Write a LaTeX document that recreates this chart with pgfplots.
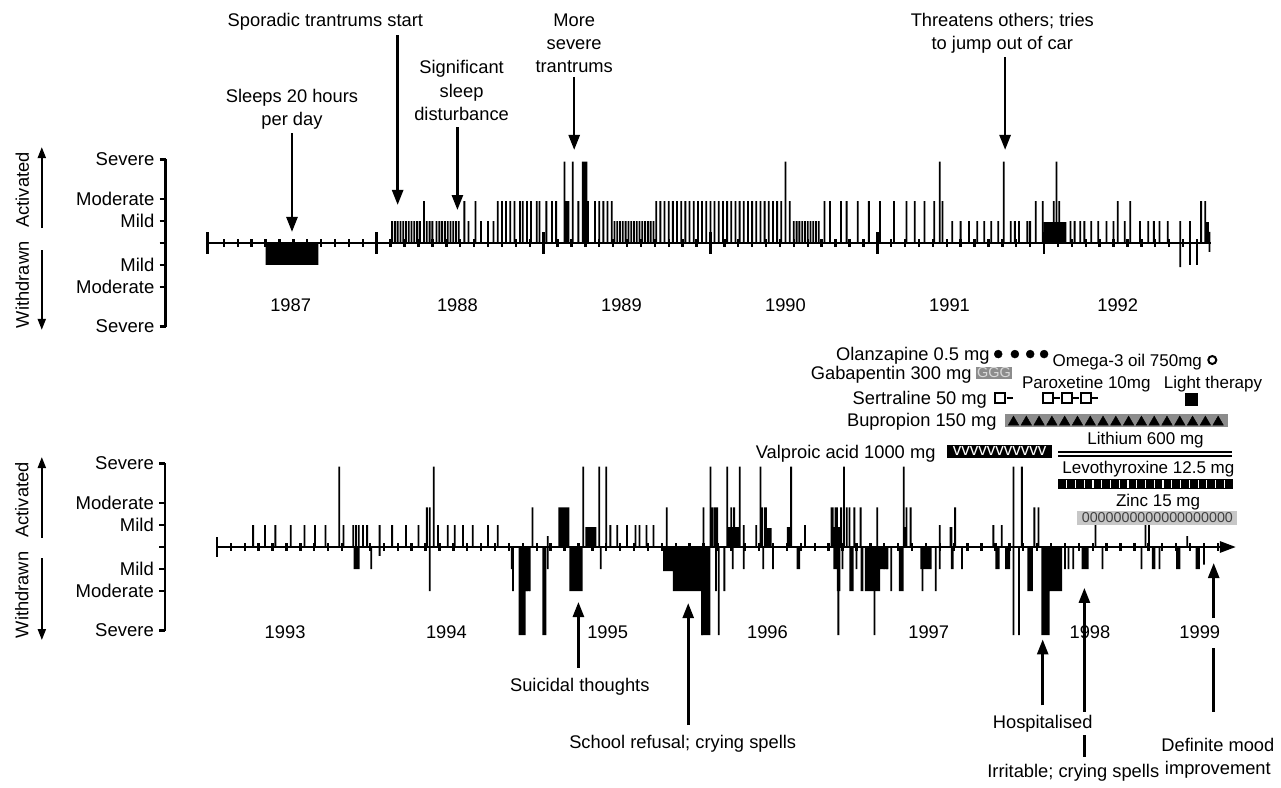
\documentclass[border=0pt]{standalone}
\usepackage{fontspec}
\setmainfont{Liberation Sans}
\usepackage{pgfplots}
\pgfplotsset{compat=1.18}
\usetikzlibrary{arrows.meta}
\definecolor{midgray}{gray}{0.55}
\definecolor{palegray}{gray}{0.78}
\definecolor{textgray}{gray}{0.85}
\newcommand{\lbl}{\fontsize{18.3}{21}\selectfont}
\newcommand{\slbl}{\fontsize{17}{20}\selectfont}

% x: months from the start of each panel (13.9pt each), y: mood level (22pt each)
\pgfplotsset{
  mood/.style={
    scale only axis, height=167.2pt, anchor=south west,
    xmax=74, ymin=-3.8, ymax=3.8,
    axis x line=none, axis y line*=left,
    xtick=\empty,
    ytick={-3.8,-2,-1,0,1,2,3.8},
    yticklabels={Severe,Moderate,Mild,{},Mild,Moderate,Severe},
    tick align=outside, major tick length=6pt,
    tick style={black, line width=2.6pt},
    axis line style={line width=2.6pt},
    yticklabel style={font=\fontsize{18.5}{21}\selectfont, inner sep=0pt, xshift=-5pt},
    clip=false,
  },
  spike/.style={ybar, bar width=1.8pt, bar shift=0pt, fill=black, draw=none},
  block/.style={const plot, fill=black, draw=none},
}
\tikzset{
  lab/.style={font=\lbl, inner sep=0pt, text height=13pt, text depth=0pt},
  slab/.style={font=\slbl, inner sep=0pt, text height=12.2pt, text depth=0pt},
  arr/.style={line width=2.6pt, -{Triangle[length=15pt,width=11pt]}},
  sarr/.style={line width=2pt, -{Triangle[length=11pt,width=8pt]}},
}

\begin{document}
\begin{tikzpicture}
\useasboundingbox (0pt,0pt) rectangle (1281pt,787pt);

%================ 1987-1992 ================
\begin{axis}[mood, at={(165.5pt,460.4pt)}, width=1073.1pt, xmin=-3.2]
\addplot[block] coordinates {(4.0,-1) (7.8,0)} \closedcycle;
\addplot[block] coordinates {(25.5,1.9) (25.85,0) (26.75,3.7) (27.15,0)
  (59.95,0.95) (61.6,0) (71.6,0.95) (71.85,0)} \closedcycle;
% mild
\addplot[spike] coordinates {
(13.1,1)(13.3,1)(13.5,1)(13.7,1)(13.9,1)(14.1,1)(14.3,1)(14.5,1)(14.7,1)(14.9,1)
(15.1,1)(15.6,1)(15.8,1)(16.0,1)(16.3,1)(16.5,1)(16.7,1)(16.9,1)(17.1,1)(17.3,1)
(17.5,1)(17.7,1)(17.9,1)(18.6,1)(19.5,1)(20.0,1)(20.4,1)
(29.1,1)(29.3,1)(29.5,1)(29.7,1)(29.9,1)(30.1,1)(30.3,1)(30.5,1)(30.7,1)(30.9,1)
(31.1,1)(31.3,1)(31.5,1)(31.7,1)(31.9,1)
(42.0,1)(42.2,1)(42.4,1)(42.6,1)(42.8,1)(43.0,1)(43.2,1)(43.4,1)(43.6,1)(43.8,1)
(53.4,1)(54.0,1)(54.6,1)(55.2,1)(55.7,1)(56.2,1)(56.7,1)(57.6,1)(57.9,1)(58.2,1)
(58.8,1)(59.0,1)(61.9,1)(62.2,1)(62.6,1)(62.9,1)(63.4,1)(63.9,1)(64.5,1)(65.0,1)
(65.8,1)(66.9,1)(67.5,1)(67.9,1)(68.3,1)(68.9,1)(69.8,1)(70.5,1)(71.9,0.5)};
% moderate
\addplot[spike] coordinates {
(15.4,1.9)(18.3,1.9)(19.1,1.9)(20.7,1.9)(21.0,1.9)(21.3,1.9)(21.6,1.9)(21.9,1.9)
(22.3,1.9)(22.5,1.9)(22.8,1.9)(23.1,1.9)(23.5,1.9)(23.7,1.9)(24.2,1.9)(24.6,1.9)
(24.9,1.9)(26.5,1.9)(27.2,1.9)(27.7,1.9)(28.0,1.9)(28.3,1.9)(28.6,1.9)(28.9,1.9)
(32.1,1.9)(32.4,1.9)(32.7,1.9)(33.0,1.9)(33.3,1.9)(33.6,1.9)(33.9,1.9)(34.2,1.9)
(34.5,1.9)(34.8,1.9)(35.1,1.9)(35.4,1.9)(35.7,1.9)(36.0,1.9)(36.3,1.9)(36.6,1.9)
(36.9,1.9)(37.2,1.9)(37.5,1.9)(37.8,1.9)(38.1,1.9)(38.4,1.9)(38.7,1.9)(39.0,1.9)
(39.3,1.9)(39.6,1.9)(39.9,1.9)(40.2,1.9)(40.5,1.9)(40.8,1.9)(41.1,1.9)(41.7,1.9)
(44.2,1.9)(44.6,1.9)(45.4,1.9)(45.8,1.9)(46.6,1.9)(47.4,1.9)(48.2,1.9)(49.2,1.9)
(50.1,1.9)(50.7,1.9)(51.4,1.9)(52.1,1.9)(52.7,1.9)(59.4,1.9)(59.9,1.9)(60.7,1.9)
(61.1,1.9)(65.3,1.9)(66.2,1.9)(71.3,1.9)(71.6,1.9)};
% severe and withdrawn
\addplot[spike] coordinates {
(25.5,3.7)(26.1,3.7)(41.4,3.7)(52.5,3.7)(57.1,3.7)(60.9,3.7)
(69.8,-1.1)(70.5,-1)(71.0,-1)(71.9,-0.4)};

% time line
\draw[line width=2.8pt] (axis cs:-0.2,0) -- (axis cs:72,0);
\pgfplotsinvokeforeach{1,...,71}{\draw[line width=2.4pt] (axis cs:#1,-0.16) -- (axis cs:#1,0.16);}
\pgfplotsinvokeforeach{-0.2,12,24,36,48,60}{\draw[line width=2.6pt] (axis cs:#1,-0.5) -- (axis cs:#1,0.5);}

\node[lab] at (axis cs:5.8,-2.82) {1987};
\node[lab] at (axis cs:17.8,-2.82) {1988};
\node[lab] at (axis cs:29.6,-2.82) {1989};
\node[lab] at (axis cs:41.4,-2.82) {1990};
\node[lab] at (axis cs:53.2,-2.82) {1991};
\node[lab] at (axis cs:65.3,-2.82) {1992};

% side labels
\node[lab, rotate=90] at (axis cs:-13.5,2.41) {Activated};
\node[lab, rotate=90] at (axis cs:-13.5,-1.9) {Withdrawn};
\draw[sarr] (axis cs:-12.1,0.68) -- (axis cs:-12.1,4.36);
\draw[sarr] (axis cs:-12.1,-0.32) -- (axis cs:-12.1,-3.95);

% events
\node[lab] at (axis cs:5.9,6.68) {Sleeps 20 hours};
\node[lab] at (axis cs:5.9,5.64) {per day};
\draw[arr] (axis cs:5.9,5.0) -- (axis cs:5.9,0.5);
\node[lab] at (axis cs:8.3,10.14) {Sporadic trantrums start};
\draw[arr] (axis cs:13.5,9.45) -- (axis cs:13.5,1.73);
\node[lab] at (axis cs:18.1,8.0) {Significant};
\node[lab] at (axis cs:18.1,6.9) {sleep};
\node[lab] at (axis cs:18.1,5.86) {disturbance};
\draw[arr] (axis cs:17.8,5.27) -- (axis cs:17.8,1.5);
\node[lab] at (axis cs:26.2,10.14) {More};
\node[lab] at (axis cs:26.2,9.09) {severe};
\node[lab] at (axis cs:26.2,8.05) {trantrums};
\draw[arr] (axis cs:26.2,7.55) -- (axis cs:26.2,4.23);
\node[lab] at (axis cs:57.0,10.14) {Threatens others; tries};
\node[lab] at (axis cs:57.0,9.09) {to jump out of car};
\draw[arr] (axis cs:57.2,8.45) -- (axis cs:57.2,4.23);
\end{axis}

%================ 1993-1999 ================
\begin{axis}[mood, at={(165pt,156.4pt)}, width=1080.6pt, xmin=-3.74]
\addplot[block] coordinates {(24.55,1.8)(25.35,0)(26.5,0.9)(27.3,0)(35.7,1.8)(36.05,0)
  (36.7,0.9)(37.6,0)(39.4,0.86)(39.9,0)(41.0,0.9)(41.3,0)(44.2,0.9)(44.8,0)
  (49.4,0.9)(49.6,0)(52.7,0.9)(52.9,0)} \closedcycle;
\addplot[block] coordinates {(21.7,-4)(22.2,-2)(22.5,0)(23.4,-4)(23.7,0)(25.35,-2)(26.3,0)
  (32.1,-1.1)(32.8,-2)(34.85,-4)(35.5,0)(41.7,-1)(41.95,0)(44.35,-1)(44.6,-2)(44.85,0)
  (45.5,-2)(45.8,0)(46.3,-2)(46.5,0)(46.6,-2)(47.7,-1)(48.3,0)(49.05,-2)(49.4,0)
  (50.6,-1)(51.4,0)(52.8,-1)(53.0,0)(56.0,-1)(56.3,0)(56.7,-1)(57.05,0)(58.3,-2)(58.7,0)
  (59.3,-4)(59.9,-2)(60.8,0)(62.2,-1)(62.7,0)(67.25,-1)(67.5,0)(69.0,-1)(69.3,0)
  (70.4,-1)(70.7,0)} \closedcycle;
% mild
\addplot[spike] coordinates {
(2.6,1)(3.45,1)(4.2,1)(5.3,1)(6.3,1)(7.05,1)(7.8,1)(9.1,1)(9.8,1)(10.0,1)(10.2,1)
(10.5,1)(10.8,1)(11.7,1)(12.6,1)(13.6,1)(14.5,1)(15.9,1)(16.6,1)(17.1,1)(17.7,1)
(18.4,1)(19.5,1)(20.2,1)(28.3,1)(28.8,1)(29.5,1)(30.1,1)(30.4,1)(30.9,1)(31.4,1)
(37.9,1)(38.8,1)(42.3,1)(52.0,1)(55.85,1)(56.45,1)(63.2,1)(66.8,1)(67.05,1)
(23.8,0.5)(69.8,0.5)};
% moderate
\addplot[spike] coordinates {
(15.1,1.8)(15.3,1.8)(22.7,1.8)(32.35,1.8)(35.0,1.8)(35.6,1.8)(37.0,1.8)(37.2,1.8)
(39.2,1.8)(39.4,1.8)(39.5,1.8)(44.2,1.8)(44.3,1.8)(44.5,1.8)(44.6,1.8)(44.9,1.8)
(45.3,1.8)(45.5,1.8)(45.85,1.8)(46.3,1.8)(47.5,1.8)(49.6,1.8)(49.9,1.8)(53.1,1.8)
(58.8,1.8)(59.1,1.8)};
% severe
\addplot[spike] coordinates {
(8.8,3.65)(15.6,3.65)(26.35,3.65)(27.5,3.65)(28.0,3.65)(35.5,3.65)(36.7,3.65)
(37.6,3.65)(39.1,3.65)(41.3,3.65)(45.1,3.65)(49.4,3.65)(57.3,3.65)(57.9,3.65)};
% withdrawn
\addplot[spike] coordinates {
(9.9,-1)(10.05,-1)(10.2,-1)(11.1,-1)(21.2,-1)(23.8,-1)(27.6,-1)(37.1,-1)(37.9,-1)
(39.3,-1)(40.0,-1)(45.0,-1)(46.0,-1)(48.0,-1)(48.2,-1)(52.0,-1)(53.6,-1)(61.0,-1)
(61.25,-1)(61.6,-1)(63.7,-1)(66.5,-1)(67.8,-1)(11.7,-0.4)(71.0,-0.8)
(15.3,-2)(21.3,-2)(22.3,-2)(22.5,-2)(35.9,-2)(36.5,-2)(48.5,-2)(50.75,-2)(51.7,-2)
(34.9,-4)(36.1,-4)(44.7,-4)(47.3,-4)(57.3,-4)(57.7,-4)};

% time line
\draw[line width=2.8pt, -{Triangle[length=16pt,width=11pt]}] (axis cs:0,0) -- (axis cs:73.3,0);
\pgfplotsinvokeforeach{1,...,72}{\draw[line width=2.4pt] (axis cs:#1,-0.16) -- (axis cs:#1,0.16);}
\draw[line width=2.6pt] (axis cs:0,-0.45) -- (axis cs:0,0.45);

\node[lab] at (axis cs:4.9,-3.86) {1993};
\node[lab] at (axis cs:16.5,-3.86) {1994};
\node[lab] at (axis cs:28.1,-3.86) {1995};
\node[lab] at (axis cs:39.6,-3.86) {1996};
\node[lab] at (axis cs:51.2,-3.86) {1997};
\node[lab] at (axis cs:62.8,-3.86) {1998};
\node[lab] at (axis cs:70.7,-3.86) {1999};

\node[lab, rotate=90] at (axis cs:-14.03,2.14) {Activated};
\node[lab, rotate=90] at (axis cs:-14.03,-2.18) {Withdrawn};
\draw[sarr] (axis cs:-12.6,0.41) -- (axis cs:-12.6,4.09);
\draw[sarr] (axis cs:-12.6,-0.5) -- (axis cs:-12.6,-4.23);

% events
\node[lab] at (axis cs:26.1,-6.27) {Suicidal thoughts};
\draw[arr] (axis cs:26.0,-5.5) -- (axis cs:26.0,-2.5);
\node[lab] at (axis cs:33.5,-8.86) {School refusal; crying spells};
\draw[arr] (axis cs:33.9,-8.1) -- (axis cs:33.9,-2.55);
\node[lab] at (axis cs:59.4,-7.95) {Hospitalised};
\draw[arr] (axis cs:59.4,-7.2) -- (axis cs:59.4,-4.2);
\node[lab] at (axis cs:61.6,-10.2) {Irritable; crying spells};
\draw[arr] (axis cs:62.4,-7.5) -- (axis cs:62.4,-1.86);
\draw[line width=2.6pt] (axis cs:62.4,-8.55) -- (axis cs:62.4,-9.55);
\node[lab] at (axis cs:72.0,-9.0) {Definite mood};
\node[lab] at (axis cs:72.0,-10.05) {improvement};
\draw[arr] (axis cs:71.7,-3.23) -- (axis cs:71.7,-0.73);
\draw[line width=2.6pt] (axis cs:71.7,-4.6) -- (axis cs:71.7,-7.5);

% medication
\node[lab, anchor=east] at (axis cs:55.6,8.77) {Olanzapine 0.5 mg};
\addplot[only marks, mark=*, mark size=4pt] coordinates {(56.2,8.77)(57.4,8.77)(58.5,8.77)(59.5,8.77)};
\node[slab, anchor=west] at (axis cs:60.1,8.5) {Omega-3 oil 750mg};
\addplot[only marks, mark=o, mark size=4pt, line width=2pt] coordinates {(71.6,8.5)};

\node[lab, anchor=east] at (axis cs:54.3,7.9) {Gabapentin 300 mg};
\addplot[fill=midgray, draw=none] coordinates {(54.6,7.64)(57.2,7.64)(57.2,8.18)(54.6,8.18)} --cycle;
\node[font=\fontsize{14.5}{15}\selectfont, text=textgray, inner sep=0pt] at (axis cs:55.9,7.91) {GGG};

\node[slab, anchor=west] at (axis cs:57.9,7.5) {Paroxetine 10mg};
\node[slab, anchor=west] at (axis cs:68.1,7.5) {Light therapy};

\node[lab, anchor=east] at (axis cs:55.4,6.77) {Sertraline 50 mg};
\addplot[only marks, mark=square, mark size=5pt, line width=2pt] coordinates {(56.3,6.77)(59.8,6.77)(61.15,6.77)(62.5,6.77)};
\draw[line width=2pt] (axis cs:56.83,6.77) -- (axis cs:57.27,6.77);
\draw[line width=2pt] (axis cs:60.2,6.77) -- (axis cs:60.65,6.77);
\draw[line width=2pt] (axis cs:61.55,6.77) -- (axis cs:62.0,6.77);
\draw[line width=2pt] (axis cs:62.9,6.77) -- (axis cs:63.4,6.77);
\addplot[only marks, mark=square*, mark size=6pt] coordinates {(70.1,6.73)};

\node[lab, anchor=east] at (axis cs:56.1,5.77) {Bupropion 150 mg};
\addplot[fill=midgray, draw=none] coordinates {(56.7,5.45)(72.7,5.45)(72.7,6.05)(56.7,6.05)} --cycle;
\addplot[only marks, mark=triangle*, mark size=6pt] coordinates {
(57.3,5.68)(58.22,5.68)(59.14,5.68)(60.06,5.68)(60.98,5.68)(61.9,5.68)(62.82,5.68)
(63.74,5.68)(64.66,5.68)(65.58,5.68)(66.5,5.68)(67.42,5.68)(68.34,5.68)(69.26,5.68)
(70.18,5.68)(71.1,5.68)(72.02,5.68)};

\node[lab, anchor=east] at (axis cs:51.7,4.32) {Valproic acid 1000 mg};
\addplot[fill=black, draw=none] coordinates {(52.5,4.05)(60.1,4.05)(60.1,4.64)(52.5,4.64)} --cycle;
\node[font=\fontsize{17}{17}\selectfont, text=white, inner sep=0pt] at (axis cs:56.3,4.38) {vvvvvvvvvvv};

\node[slab] at (axis cs:66.8,4.95) {Lithium 600 mg};
\draw[line width=1.6pt] (axis cs:60.5,4.32) -- (axis cs:73.0,4.32);
\draw[line width=1.6pt] (axis cs:60.5,4.14) -- (axis cs:73.0,4.14);

\node[slab] at (axis cs:67.0,3.64) {Levothyroxine 12.5 mg};
\addplot[fill=black, draw=none] coordinates {(60.5,2.64)(73.1,2.64)(73.1,3.09)(60.5,3.09)} --cycle;
\pgfplotsinvokeforeach{61.13,61.76,62.39,63.02,63.65,64.28,64.91,65.54,66.17,66.8,67.43,68.06,68.69,69.32,69.95,70.58,71.21,71.84,72.47}{
  \draw[white, line width=1.2pt] (axis cs:#1,2.7) -- (axis cs:#1,3.03);}

\node[slab] at (axis cs:67.7,2.14) {Zinc 15 mg};
\addplot[fill=palegray, draw=none] coordinates {(61.9,1.0)(73.4,1.0)(73.4,1.64)(61.9,1.64)} --cycle;
\node[font=\fontsize{14.3}{15}\selectfont, text=black!75, inner sep=0pt] at (axis cs:67.65,1.32) {0000000000000000000};
\end{axis}
\end{tikzpicture}
\end{document}
